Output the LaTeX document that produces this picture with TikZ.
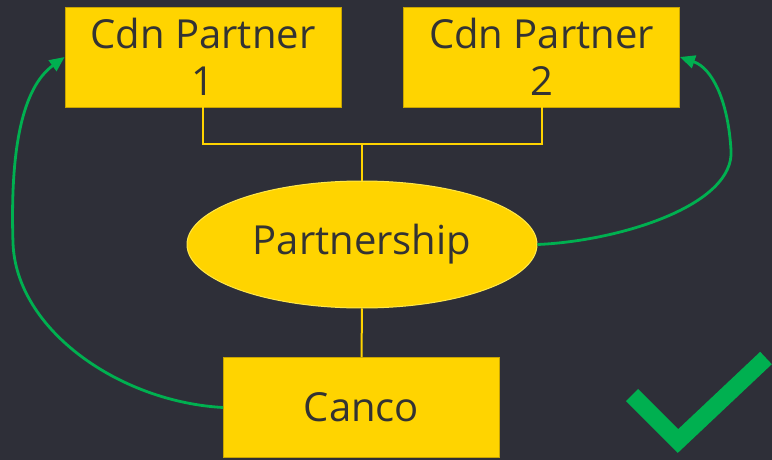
\documentclass[tikz,border=0pt]{standalone}
\usepackage{fontspec}
\setmainfont{Open Sans}
\usetikzlibrary{shapes.geometric,arrows.meta}
\definecolor{bgdark}{HTML}{2E2F38}
\definecolor{boxyellow}{HTML}{FFD400}
\definecolor{boxedge}{HTML}{C8A400}
\definecolor{ovaledge}{HTML}{FFE84A}
\definecolor{linkgreen}{HTML}{00B050}
\definecolor{inkgrey}{HTML}{333333}
\tikzset{
  partybox/.style={rectangle, fill=boxyellow, draw=boxedge, line width=0.8pt,
    minimum width=276pt, minimum height=100pt, inner sep=0pt,
    align=center, text=inkgrey, font=\fontsize{40}{47}\selectfont},
  oval/.style={ellipse, fill=boxyellow, draw=ovaledge, line width=1pt,
    minimum width=350pt, minimum height=127pt, inner sep=0pt,
    text=inkgrey, font=\fontsize{40}{47}\selectfont},
  tie/.style={draw=boxyellow, line width=2pt},
  flow/.style={draw=linkgreen, line width=2.8pt,
    -{Triangle[length=15pt,width=13pt]}}
}
\begin{document}
\begin{tikzpicture}[x=1pt,y=-1pt]
  \fill[bgdark] (0,0) rectangle (772,460);
  \useasboundingbox (0,0) rectangle (772,460);

  \node[partybox] (p1) at (203,57) {Cdn Partner\\1};
  \node[partybox] (p2) at (541.5,57) {Cdn Partner\\2};
  \node[oval] (ps) at (362,244.5) {Partnership};
  \node[partybox] (co) at (361.5,407.5) {Canco};

  % yellow ownership lines
  \coordinate (jn) at (362,144);
  \draw[tie] (p1.south) |- (jn) -| (p2.south);
  \draw[tie] (jn) -- (ps.north);
  \draw[tie] (ps.south) -- (co.north);

  % green flows
  \draw[flow] (co.west) .. controls (120,402) and (16,330) .. (13,243)
    .. controls (10,150) and (22,88) .. (p1.west);
  \draw[flow] (ps.east) .. controls (620,241) and (735,205) .. (731,150)
    .. controls (728,100) and (712,68) .. (p2.east);

  % check mark
  \draw[linkgreen, line width=17pt, line join=miter]
    (632,395) -- (678,441) -- (766,358);
\end{tikzpicture}
\end{document}
